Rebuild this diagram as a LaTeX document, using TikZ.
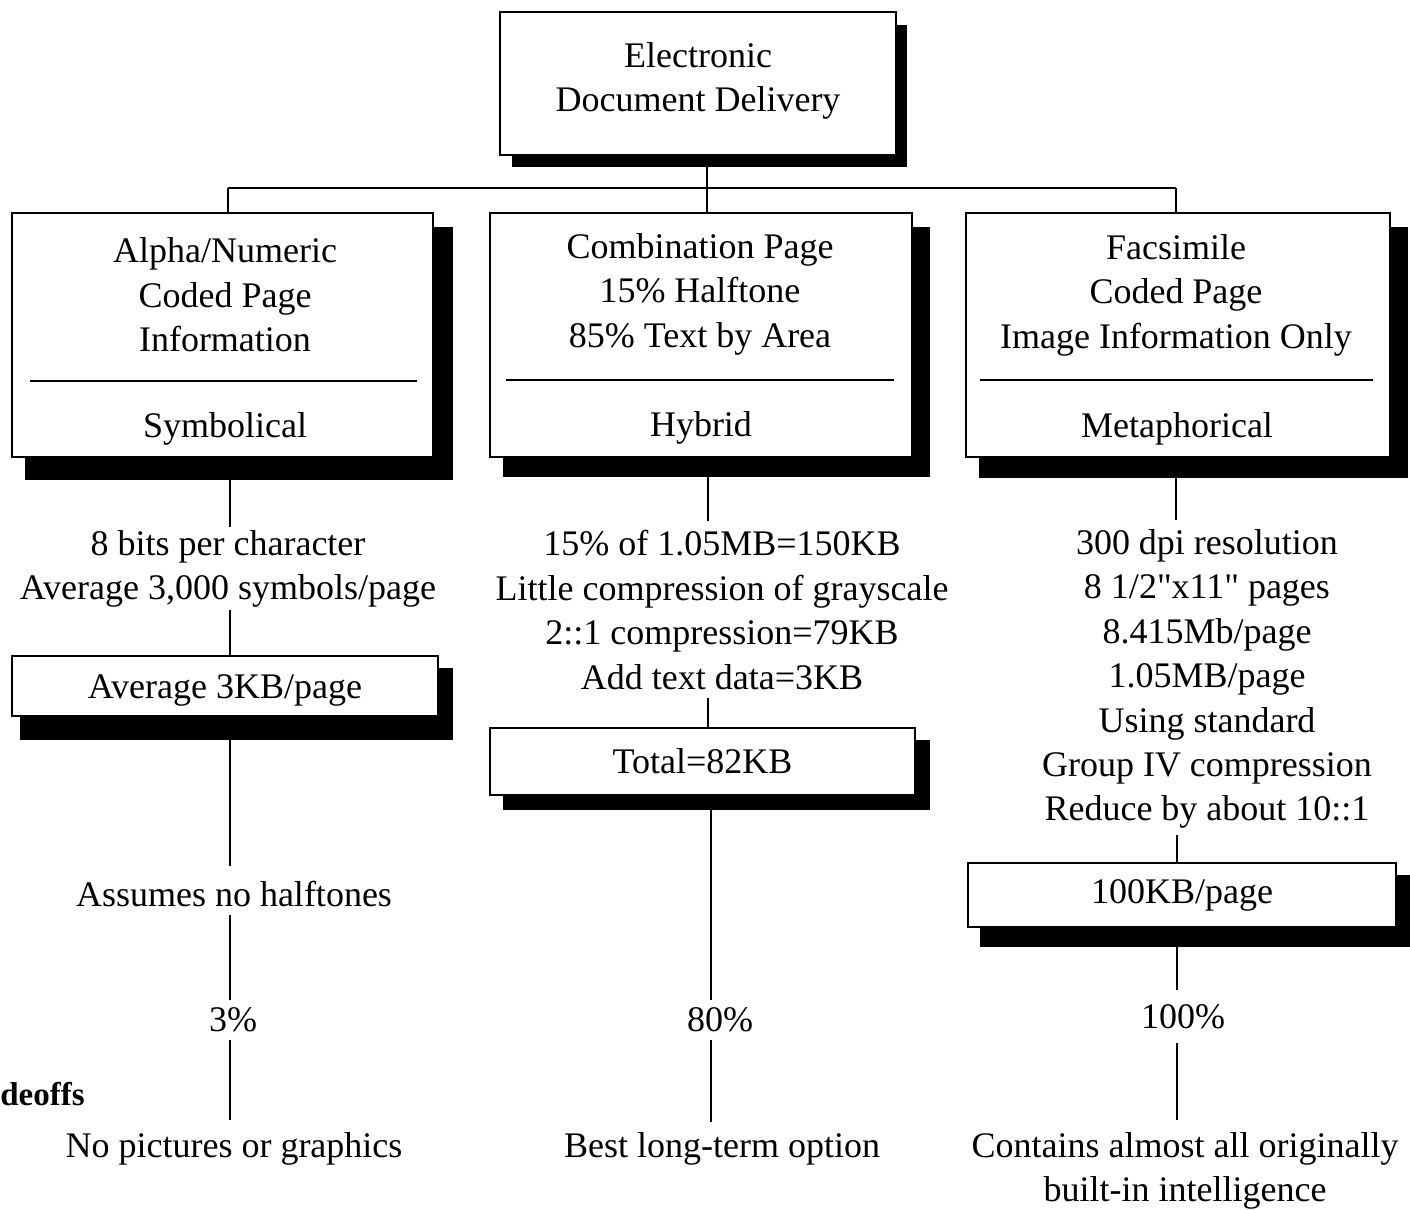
\documentclass[tikz,border=0pt]{standalone}
\usepackage{fontspec}
\setmainfont{Liberation Serif}[Ligatures=TeXOff]
\begin{document}
\begin{tikzpicture}[x=0.5pt,y=-0.5pt,
  box/.style={draw, fill=white, line width=0.9pt, inner sep=0pt},
  shade/.style={fill=black},
  txt/.style={align=center, inner sep=0pt, font=\fontsize{18}{22.2}\selectfont},
  conn/.style={line width=0.9pt},
  sep/.style={line width=0.9pt}]
\useasboundingbox (0,0) rectangle (1410,1210);

% shadows
\fill[shade] (512,25) rectangle (907,167);
\fill[shade] (25,227) rectangle (453,480);
\fill[shade] (503,227) rectangle (930,477);
\fill[shade] (979,227) rectangle (1408,478);
\fill[shade] (20,668) rectangle (453,740);
\fill[shade] (503,740) rectangle (930,810);
\fill[shade] (980,875) rectangle (1410,947);

% boxes
\node[box, minimum width=198pt, minimum height=71.5pt] (top) at (698,83.5) {};
\node[box, minimum width=210.5pt, minimum height=122pt] (alpha) at (222.5,335) {};
\node[box, minimum width=211pt, minimum height=122pt] (comb) at (701,335) {};
\node[box, minimum width=212pt, minimum height=122pt] (fax) at (1178,335) {};
\node[box, minimum width=213pt, minimum height=30pt] (avg) at (225,686) {};
\node[box, minimum width=212.5pt, minimum height=33.5pt] (total) at (702.5,761.5) {};
\node[box, minimum width=214pt, minimum height=32pt] (hund) at (1182,895) {};

% box texts
\node[txt] (toptxt) at (698,81) {Electronic\\Document Delivery};
\node[txt] (alphatxt) at (225,295) {Alpha/Numeric\\Coded Page\\Information};
\node[txt] (alphasub) at (225,429) {Symbolical};
\node[txt] (combtxt) at (700,294) {Combination Page\\15\% Halftone\\85\% Text by Area};
\node[txt] (combsub) at (701,428) {Hybrid};
\node[txt] (faxtxt) at (1176,295) {Facsimile\\Coded Page\\Image Information Only};
\node[txt] (faxsub) at (1177,429) {Metaphorical};
\node[txt] (avgtxt) at ([yshift=-2pt]avg.center) {Average 3KB/page};
\node[txt] (totaltxt) at (total) {Total=82KB};
\node[txt] (hundtxt) at (hund) {100KB/page};

% separators
\draw[sep] (30,381) -- (417,381);
\draw[sep] (506,380) -- (894,380);
\draw[sep] (980,380) -- (1373,380);

% free texts
\node[txt] (l1) at (228,569) {8 bits per character\\Average 3,000 symbols/page};
\node[txt] (l2) at (234,894) {Assumes no halftones};
\node[txt] (l3) at (233,1020) {3\%};
\node[txt] (l4) at (234,1149) {No pictures or graphics};

\node[txt] (m1) at (722,610) {15\% of 1.05MB=150KB\\Little compression of grayscale\\2::1 compression=79KB\\Add text data=3KB};
\node[txt] (m3) at (720,1020) {80\%};
\node[txt] (m4) at (722,1149) {Best long-term option};

\node[txt] (r1) at (1207,679) {300 dpi resolution\\8 1/2"x11" pages\\8.415Mb/page\\1.05MB/page\\Using standard\\Group IV compression\\Reduce by about 10::1};
\node[txt] (r3) at (1183,1017) {100\%};
\node[txt] (r4) at (1185,1171) {Contains almost all originally\\built-in intelligence};

\node[txt, font=\fontsize{16.5}{20}\selectfont\bfseries, anchor=west] (deo) at (0,1094) {deoffs};

% connectors
\coordinate (hub) at (707,188);
\coordinate (hl) at (228,188);
\coordinate (hr) at (1176,188);
\draw[conn] (707,167) -- (hub);
\draw[conn] (hl) -- (hr);
\draw[conn] (hl) -- (hl |- alpha.north);
\draw[conn] (hub) -- (hub |- comb.north);
\draw[conn] (hr) -- (hr |- fax.north);

% left column
\coordinate (lc) at (230,610);
\coordinate (mc) at (708,698);
\coordinate (rc) at (1177,835);
\draw[conn] (230,480) -- (230,527);
\draw[conn] (lc) -- (lc |- avg.north);
\draw[conn] (230,740) -- (230,866);
\draw[conn] (230,915) -- (230,1000);
\draw[conn] (230,1040) -- (230,1120);

% middle column
\draw[conn] (708,477) -- (708,521);
\draw[conn] (mc) -- (mc |- total.north);
\draw[conn] (711,810) -- (711,1000);
\draw[conn] (711,1040) -- (711,1122);

% right column
\draw[conn] (1176,478) -- (1176,520);
\draw[conn] (rc) -- (rc |- hund.north);
\draw[conn] (1177,947) -- (1177,990);
\draw[conn] (1177,1043) -- (1177,1120);
\end{tikzpicture}
\end{document}
